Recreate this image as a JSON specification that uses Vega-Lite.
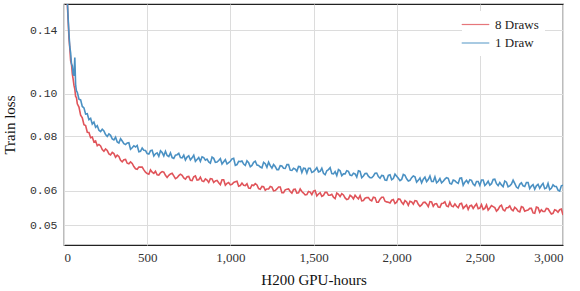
{
"$schema": "https://vega.github.io/schema/vega-lite/v6.json",
"width": 499, "height": 241,
"autosize": {"type": "none"},
"padding": {"left": 64, "top": 4, "right": 17, "bottom": 46},
"background": "white",
"config": {
  "font": "Liberation Serif",
  "view": {"stroke": "#222", "strokeWidth": 1.2},
  "axis": {"grid": true, "gridColor": "#dcdcdc", "gridWidth": 1, "domain": false, "ticks": false,
           "labelColor": "#333", "titleColor": "#111", "titleFontWeight": "normal"}
},
"data": {"values": [
{"x":10,"r":0.200,"b":0.200},{"x":15,"r":0.181,"b":0.179},{"x":20,"r":0.161,"b":0.164},{"x":25,"r":0.147,"b":0.149},
{"x":30,"r":0.134,"b":0.137},{"x":35,"r":0.127,"b":0.128},{"x":40,"r":0.119,"b":0.124},{"x":45,"r":0.117,"b":0.117},
{"x":50,"r":0.111,"b":0.116},{"x":55,"r":0.108,"b":0.111},{"x":60,"r":0.1045,"b":0.110},{"x":65,"r":0.1025,"b":0.121},
{"x":70,"r":0.0985,"b":0.1045},{"x":75,"r":0.0980,"b":0.1015},{"x":80,"r":0.0948,"b":0.1008},{"x":90,"r":0.0932,"b":0.0972},
{"x":100,"r":0.0893,"b":0.0968},{"x":110,"r":0.0881,"b":0.0935},{"x":120,"r":0.0849,"b":0.0928},{"x":130,"r":0.0845,"b":0.0898},
{"x":140,"r":0.0816,"b":0.0900},{"x":150,"r":0.0815,"b":0.0872},{"x":160,"r":0.0793,"b":0.0878},{"x":170,"r":0.0796,"b":0.0852},
{"x":180,"r":0.0775,"b":0.0861},{"x":190,"r":0.0779,"b":0.0838},{"x":200,"r":0.0760,"b":0.0845},{"x":220,"r":0.0759,"b":0.0819},
{"x":240,"r":0.0738,"b":0.0822},{"x":260,"r":0.0741,"b":0.0798},{"x":280,"r":0.0724,"b":0.0803},{"x":300,"r":0.0729,"b":0.0784},
{"x":320,"r":0.0723,"b":0.0775},{"x":340,"r":0.0704,"b":0.0789},{"x":360,"r":0.0706,"b":0.0768},{"x":380,"r":0.0693,"b":0.0771},
{"x":400,"r":0.0698,"b":0.0746},{"x":420,"r":0.0681,"b":0.0760},{"x":440,"r":0.0671,"b":0.0761},{"x":460,"r":0.0679,"b":0.0738},
{"x":480,"r":0.0669,"b":0.0742},{"x":500,"r":0.0656,"b":0.0729},{"x":520,"r":0.0669,"b":0.0740},{"x":540,"r":0.0657,"b":0.0720},
{"x":560,"r":0.0652,"b":0.0732},{"x":580,"r":0.0659,"b":0.0740},{"x":600,"r":0.0661,"b":0.0720},{"x":620,"r":0.0643,"b":0.0722},
{"x":640,"r":0.0655,"b":0.0732},{"x":660,"r":0.0648,"b":0.0711},{"x":680,"r":0.0642,"b":0.0725},{"x":700,"r":0.0654,"b":0.0714},
{"x":720,"r":0.0641,"b":0.0723},{"x":740,"r":0.0645,"b":0.0716},{"x":760,"r":0.0633,"b":0.0705},{"x":780,"r":0.0645,"b":0.0723},
{"x":800,"r":0.0634,"b":0.0707},{"x":820,"r":0.0644,"b":0.0700},{"x":840,"r":0.0629,"b":0.0714},{"x":860,"r":0.0634,"b":0.0708},
{"x":880,"r":0.0639,"b":0.0693},{"x":900,"r":0.0626,"b":0.0711},{"x":920,"r":0.0633,"b":0.0697},{"x":940,"r":0.0619,"b":0.0710},
{"x":960,"r":0.0635,"b":0.0698},{"x":980,"r":0.0623,"b":0.0690},{"x":1000,"r":0.0618,"b":0.0700},{"x":1020,"r":0.0626,"b":0.0711},
{"x":1040,"r":0.0630,"b":0.0688},{"x":1060,"r":0.0616,"b":0.0699},{"x":1080,"r":0.0617,"b":0.0690},{"x":1100,"r":0.0622,"b":0.0702},
{"x":1120,"r":0.0607,"b":0.0680},{"x":1140,"r":0.0616,"b":0.0696},{"x":1160,"r":0.0618,"b":0.0686},{"x":1180,"r":0.0604,"b":0.0679},
{"x":1200,"r":0.0612,"b":0.0696},{"x":1220,"r":0.0605,"b":0.0678},{"x":1240,"r":0.0613,"b":0.0684},{"x":1260,"r":0.0599,"b":0.0688},
{"x":1280,"r":0.0605,"b":0.0670},{"x":1300,"r":0.0611,"b":0.0684},{"x":1320,"r":0.0593,"b":0.0675},{"x":1340,"r":0.0604,"b":0.0688},
{"x":1360,"r":0.0597,"b":0.0668},{"x":1380,"r":0.0603,"b":0.0675},{"x":1400,"r":0.0592,"b":0.0664},{"x":1420,"r":0.0605,"b":0.0680},
{"x":1440,"r":0.0592,"b":0.0675},{"x":1460,"r":0.0587,"b":0.0658},{"x":1480,"r":0.0595,"b":0.0675},{"x":1500,"r":0.0598,"b":0.0663},
{"x":1520,"r":0.0583,"b":0.0677},{"x":1540,"r":0.0593,"b":0.0664},{"x":1560,"r":0.0585,"b":0.0657},{"x":1580,"r":0.0594,"b":0.0666},
{"x":1600,"r":0.0585,"b":0.0677},{"x":1620,"r":0.0579,"b":0.0655},{"x":1640,"r":0.0592,"b":0.0649},{"x":1660,"r":0.0581,"b":0.0666},
{"x":1680,"r":0.0586,"b":0.0655},{"x":1700,"r":0.0572,"b":0.0666},{"x":1720,"r":0.0585,"b":0.0651},{"x":1740,"r":0.0574,"b":0.0657},
{"x":1760,"r":0.0579,"b":0.0644},{"x":1780,"r":0.0584,"b":0.0664},{"x":1800,"r":0.0569,"b":0.0648},{"x":1820,"r":0.0578,"b":0.0657},
{"x":1840,"r":0.0571,"b":0.0642},{"x":1860,"r":0.0579,"b":0.0648},{"x":1880,"r":0.0564,"b":0.0658},{"x":1900,"r":0.0573,"b":0.0640},
{"x":1920,"r":0.0579,"b":0.0649},{"x":1940,"r":0.0565,"b":0.0633},{"x":1960,"r":0.0562,"b":0.0652},{"x":1980,"r":0.0572,"b":0.0639},
{"x":2000,"r":0.0564,"b":0.0647},{"x":2020,"r":0.0573,"b":0.0632},{"x":2040,"r":0.0558,"b":0.0653},{"x":2060,"r":0.0565,"b":0.0638},
{"x":2080,"r":0.0567,"b":0.0633},{"x":2100,"r":0.0558,"b":0.0648},{"x":2120,"r":0.0568,"b":0.0627},{"x":2140,"r":0.0552,"b":0.0641},
{"x":2160,"r":0.0563,"b":0.0637},{"x":2180,"r":0.0559,"b":0.0629},{"x":2200,"r":0.0566,"b":0.0648},{"x":2220,"r":0.0552,"b":0.0629},
{"x":2240,"r":0.0560,"b":0.0625},{"x":2260,"r":0.0549,"b":0.0639},{"x":2280,"r":0.0561,"b":0.0630},{"x":2300,"r":0.0553,"b":0.0642},
{"x":2320,"r":0.0564,"b":0.0623},{"x":2340,"r":0.0551,"b":0.0634},{"x":2360,"r":0.0552,"b":0.0626},{"x":2380,"r":0.0559,"b":0.0640},
{"x":2400,"r":0.0546,"b":0.0617},{"x":2420,"r":0.0556,"b":0.0633},{"x":2440,"r":0.0553,"b":0.0635},{"x":2460,"r":0.0546,"b":0.0621},
{"x":2480,"r":0.0559,"b":0.0629},{"x":2500,"r":0.0547,"b":0.0616},{"x":2520,"r":0.0543,"b":0.0634},{"x":2540,"r":0.0556,"b":0.0622},
{"x":2560,"r":0.0547,"b":0.0617},{"x":2580,"r":0.0551,"b":0.0636},{"x":2600,"r":0.0538,"b":0.0622},{"x":2620,"r":0.0552,"b":0.0626},
{"x":2640,"r":0.0542,"b":0.0612},{"x":2660,"r":0.0548,"b":0.0627},{"x":2680,"r":0.0553,"b":0.0615},{"x":2700,"r":0.0539,"b":0.0634},
{"x":2720,"r":0.0545,"b":0.0611},{"x":2740,"r":0.0536,"b":0.0620},{"x":2760,"r":0.0549,"b":0.0615},{"x":2780,"r":0.0540,"b":0.0626},
{"x":2800,"r":0.0546,"b":0.0606},{"x":2820,"r":0.0533,"b":0.0619},{"x":2840,"r":0.0550,"b":0.0615},{"x":2860,"r":0.0535,"b":0.0607},
{"x":2880,"r":0.0537,"b":0.0623},{"x":2900,"r":0.0546,"b":0.0608},{"x":2920,"r":0.0537,"b":0.0603},{"x":2940,"r":0.0532,"b":0.0618},
{"x":2960,"r":0.0540,"b":0.0613},{"x":2980,"r":0.0542,"b":0.0598},{"x":3000,"r":0.0527,"b":0.0617},
{"x":210,"r":0.0765,"b":0.0825},{"x":230,"r":0.0745,"b":0.0829},{"x":250,"r":0.0747,"b":0.0806},{"x":270,"r":0.0728,"b":0.0809},{"x":290,"r":0.0734,"b":0.0788},
{"x":310,"r":0.0715,"b":0.0795},{"x":330,"r":0.0718,"b":0.0771},{"x":350,"r":0.0698,"b":0.0779},{"x":370,"r":0.0707,"b":0.0765},
{"x":390,"r":0.0691,"b":0.0772},{"x":410,"r":0.0692,"b":0.0752},{"x":430,"r":0.0673,"b":0.0755},{"x":450,"r":0.0679,"b":0.0736},
{"x":470,"r":0.0679,"b":0.0751},{"x":490,"r":0.0661,"b":0.0741},{"x":510,"r":0.0654,"b":0.0727},{"x":530,"r":0.0661,"b":0.0742},
{"x":550,"r":0.0664,"b":0.0728},{"x":570,"r":0.0651,"b":0.0719},{"x":590,"r":0.0663,"b":0.0733},{"x":610,"r":0.0650,"b":0.0738},
{"x":630,"r":0.0650,"b":0.0718},{"x":650,"r":0.0657,"b":0.0714},{"x":670,"r":0.0639,"b":0.0723},{"x":690,"r":0.0649,"b":0.0730},
{"x":710,"r":0.0650,"b":0.0713},{"x":730,"r":0.0637,"b":0.0705},{"x":750,"r":0.0646,"b":0.0721},{"x":770,"r":0.0632,"b":0.0713},
{"x":790,"r":0.0648,"b":0.0700},{"x":810,"r":0.0635,"b":0.0714},{"x":830,"r":0.0631,"b":0.0717},{"x":850,"r":0.0638,"b":0.0704},
{"x":870,"r":0.0626,"b":0.0698},{"x":890,"r":0.0638,"b":0.0716},{"x":910,"r":0.0631,"b":0.0696},{"x":930,"r":0.0625,"b":0.0703},
{"x":950,"r":0.0635,"b":0.0690},{"x":970,"r":0.0617,"b":0.0706},{"x":990,"r":0.0626,"b":0.0695},{"x":1010,"r":0.0620,"b":0.0709},
{"x":1030,"r":0.0628,"b":0.0685},{"x":1050,"r":0.0614,"b":0.0700},{"x":1070,"r":0.0624,"b":0.0701},{"x":1090,"r":0.0616,"b":0.0685},
{"x":1110,"r":0.0608,"b":0.0695},{"x":1130,"r":0.0618,"b":0.0685},{"x":1150,"r":0.0622,"b":0.0700},{"x":1170,"r":0.0606,"b":0.0685},
{"x":1190,"r":0.0613,"b":0.0676},{"x":1210,"r":0.0601,"b":0.0691},{"x":1230,"r":0.0605,"b":0.0697},{"x":1250,"r":0.0611,"b":0.0675},
{"x":1270,"r":0.0600,"b":0.0681},{"x":1290,"r":0.0611,"b":0.0670},{"x":1310,"r":0.0593,"b":0.0683},{"x":1330,"r":0.0602,"b":0.0674},
{"x":1350,"r":0.0605,"b":0.0688},{"x":1370,"r":0.0592,"b":0.0667},{"x":1390,"r":0.0604,"b":0.0672},{"x":1410,"r":0.0593,"b":0.0681},
{"x":1430,"r":0.0597,"b":0.0660},{"x":1450,"r":0.0586,"b":0.0674},{"x":1470,"r":0.0597,"b":0.0675},{"x":1490,"r":0.0587,"b":0.0660},
{"x":1510,"r":0.0600,"b":0.0669},{"x":1530,"r":0.0589,"b":0.0662},{"x":1550,"r":0.0582,"b":0.0675},{"x":1570,"r":0.0594,"b":0.0652},
{"x":1590,"r":0.0585,"b":0.0670},{"x":1610,"r":0.0588,"b":0.0656},{"x":1630,"r":0.0575,"b":0.0663},{"x":1650,"r":0.0588,"b":0.0670},
{"x":1670,"r":0.0590,"b":0.0649},{"x":1690,"r":0.0577,"b":0.0655},{"x":1710,"r":0.0574,"b":0.0664},{"x":1730,"r":0.0581,"b":0.0649},
{"x":1750,"r":0.0585,"b":0.0655},{"x":1770,"r":0.0574,"b":0.0666},{"x":1790,"r":0.0568,"b":0.0642},{"x":1810,"r":0.0576,"b":0.0656},
{"x":1830,"r":0.0578,"b":0.0647},{"x":1850,"r":0.0568,"b":0.0642},{"x":1870,"r":0.0578,"b":0.0657},{"x":1890,"r":0.0564,"b":0.0646},
{"x":1910,"r":0.0579,"b":0.0650},{"x":1930,"r":0.0567,"b":0.0634},{"x":1950,"r":0.0564,"b":0.0650},{"x":1970,"r":0.0570,"b":0.0635},
{"x":1990,"r":0.0560,"b":0.0654},{"x":2010,"r":0.0574,"b":0.0640},{"x":2030,"r":0.0564,"b":0.0636},{"x":2050,"r":0.0569,"b":0.0650},
{"x":2070,"r":0.0555,"b":0.0631},{"x":2090,"r":0.0565,"b":0.0642},{"x":2110,"r":0.0569,"b":0.0645},{"x":2130,"r":0.0558,"b":0.0633},
{"x":2150,"r":0.0556,"b":0.0625},{"x":2170,"r":0.0564,"b":0.0644},{"x":2190,"r":0.0551,"b":0.0636},{"x":2210,"r":0.0565,"b":0.0629},
{"x":2230,"r":0.0559,"b":0.0645},{"x":2250,"r":0.0550,"b":0.0630},{"x":2270,"r":0.0560,"b":0.0625},{"x":2290,"r":0.0565,"b":0.0637},
{"x":2310,"r":0.0551,"b":0.0640},{"x":2330,"r":0.0553,"b":0.0621},{"x":2350,"r":0.0559,"b":0.0632},{"x":2370,"r":0.0548,"b":0.0623},
{"x":2390,"r":0.0561,"b":0.0641},{"x":2410,"r":0.0551,"b":0.0627},{"x":2430,"r":0.0543,"b":0.0624},{"x":2450,"r":0.0555,"b":0.0633},
{"x":2470,"r":0.0553,"b":0.0616},{"x":2490,"r":0.0545,"b":0.0629},{"x":2510,"r":0.0557,"b":0.0634},{"x":2530,"r":0.0546,"b":0.0616},
{"x":2550,"r":0.0541,"b":0.0630},{"x":2570,"r":0.0554,"b":0.0622},{"x":2590,"r":0.0548,"b":0.0637},{"x":2610,"r":0.0543,"b":0.0616},
{"x":2630,"r":0.0555,"b":0.0618},{"x":2650,"r":0.0539,"b":0.0631},{"x":2670,"r":0.0548,"b":0.0612},{"x":2690,"r":0.0543,"b":0.0621},
{"x":2710,"r":0.0549,"b":0.0623},{"x":2730,"r":0.0538,"b":0.0607},{"x":2750,"r":0.0551,"b":0.0625},{"x":2770,"r":0.0538,"b":0.0613},
{"x":2790,"r":0.0541,"b":0.0626},{"x":2810,"r":0.0546,"b":0.0614},{"x":2830,"r":0.0532,"b":0.0604},{"x":2850,"r":0.0548,"b":0.0620},
{"x":2870,"r":0.0542,"b":0.0616},{"x":2890,"r":0.0537,"b":0.0606},{"x":2910,"r":0.0545,"b":0.0623},{"x":2930,"r":0.0530,"b":0.0607},
{"x":2950,"r":0.0542,"b":0.0613},{"x":2970,"r":0.0535,"b":0.0601},{"x":2990,"r":0.0544,"b":0.0615}
]},
"transform": [
  {"fold": ["r", "b"], "as": ["key", "loss"]},
  {"lookup": "key", "from": {"data": {"values": [{"key": "r", "series": "8 Draws"}, {"key": "b", "series": "1 Draw"}]}, "key": "key", "fields": ["series"]}}
],
"mark": {"type": "line", "strokeWidth": 1.6, "clip": true, "interpolate": "linear"},
"encoding": {
  "x": {"field": "x", "type": "quantitative",
        "scale": {"domain": [0, 3000], "nice": false},
        "axis": {"values": [0, 500, 1000, 1500, 2000, 2500, 3000], "format": ",d",
                 "labelFont": "Liberation Serif", "labelFontSize": 13, "labelPadding": 6,
                 "title": "H200 GPU-hours", "titleFont": "Liberation Serif", "titleFontSize": 15, "titlePadding": 8}},
  "y": {"field": "loss", "type": "quantitative",
        "scale": {"type": "log", "domain": [0.045, 0.1606], "nice": false},
        "axis": {"values": [0.05, 0.06, 0.08, 0.10, 0.14], "format": ".2f",
                 "labelFont": "Liberation Mono", "labelFontSize": 11.5, "labelPadding": 7,
                 "title": "Train loss", "titleFont": "Liberation Serif", "titleFontSize": 15, "titlePadding": 12}},
  "color": {"field": "series", "type": "nominal",
            "scale": {"domain": ["8 Draws", "1 Draw"], "range": ["#e0545a", "#4b91c3"]},
            "legend": {"title": null, "orient": "none", "legendX": 398, "legendY": 7,
                       "fillColor": "white", "padding": 6, "symbolType": "M-2,0H2", "symbolSize": 190,
                       "symbolStrokeWidth": 1.2, "symbolOpacity": 0.8, "rowPadding": 3.5,
                       "labelFont": "Liberation Serif", "labelFontSize": 13, "labelColor": "#222", "labelOffset": 12}}
}
}
